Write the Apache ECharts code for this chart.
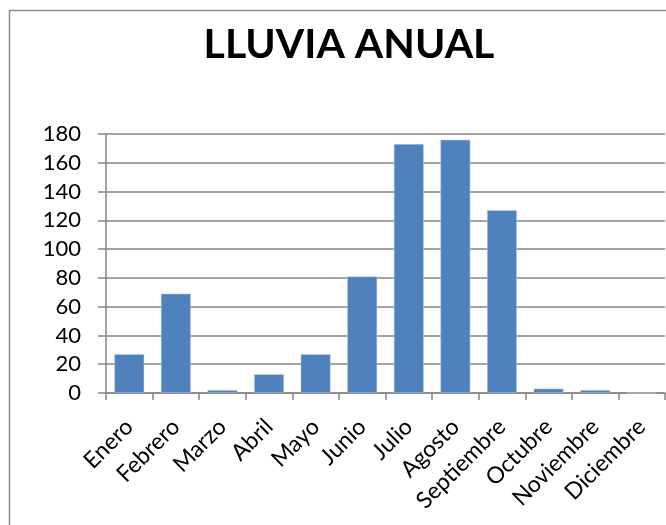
<!DOCTYPE html>
<html>
<head>
<meta charset="utf-8">
<script src="https://cdn.jsdelivr.net/npm/echarts@6/dist/echarts.min.js"></script>
<style>html,body{margin:0;padding:0;background:#fff;}#c{width:666px;height:525px;}</style>
</head>
<body>
<div id="c"></div>
<script>
const titleText = 'LLUVIA ANUAL';
const months = ['Enero','Febrero','Marzo','Abril','Mayo','Junio','Julio','Agosto','Septiembre','Octubre','Noviembre','Diciembre'];
const rainfall = [27, 69, 2, 13, 27, 81, 173, 176, 127, 3, 2, 0];
const yMin = 0, yMax = 180, yStep = 20;

const chart = echarts.init(document.getElementById('c'), null, {renderer: 'canvas'});
const font = 'Lato, "Open Sans", sans-serif';
chart.setOption({
  animation: false,
  backgroundColor: '#ffffff',
  graphic: [{
    type: 'rect', left: 7, top: 8, silent: true, z: -10,
    shape: {width: 700, height: 600},
    style: {fill: 'none', stroke: '#8c8c8c', lineWidth: 1.5}
  }],
  title: {
    text: titleText, left: 344, textAlign: 'center', top: 19,
    textStyle: {fontFamily: font, fontWeight: 'bold', fontSize: 41, color: '#000'}
  },
  grid: {left: 106, right: 1, top: 134, bottom: 132, containLabel: false},
  xAxis: {
    type: 'category', data: months,
    axisLine: {lineStyle: {color: '#868686', width: 1.5}},
    axisTick: {show: true, alignWithLabel: false, length: 7, lineStyle: {color: '#868686', width: 1.5}},
    axisLabel: {rotate: 45, interval: 0, margin: 30, fontFamily: font, fontSize: 23, color: '#000'}
  },
  yAxis: {
    type: 'value', min: yMin, max: yMax, interval: yStep,
    axisLine: {show: true, lineStyle: {color: '#868686', width: 1.5}},
    axisTick: {show: true, length: 8, lineStyle: {color: '#868686', width: 1.5}},
    splitLine: {lineStyle: {color: '#868686', width: 1.5}},
    axisLabel: {margin: 25, fontFamily: font, fontSize: 22, color: '#000'}
  },
  series: [{
    type: 'bar', data: rainfall, barCategoryGap: '36%',
    itemStyle: {color: '#4F81BD', borderColor: '#bcd0ea', borderWidth: 0.5}
  }]
});
</script>
</body>
</html>
